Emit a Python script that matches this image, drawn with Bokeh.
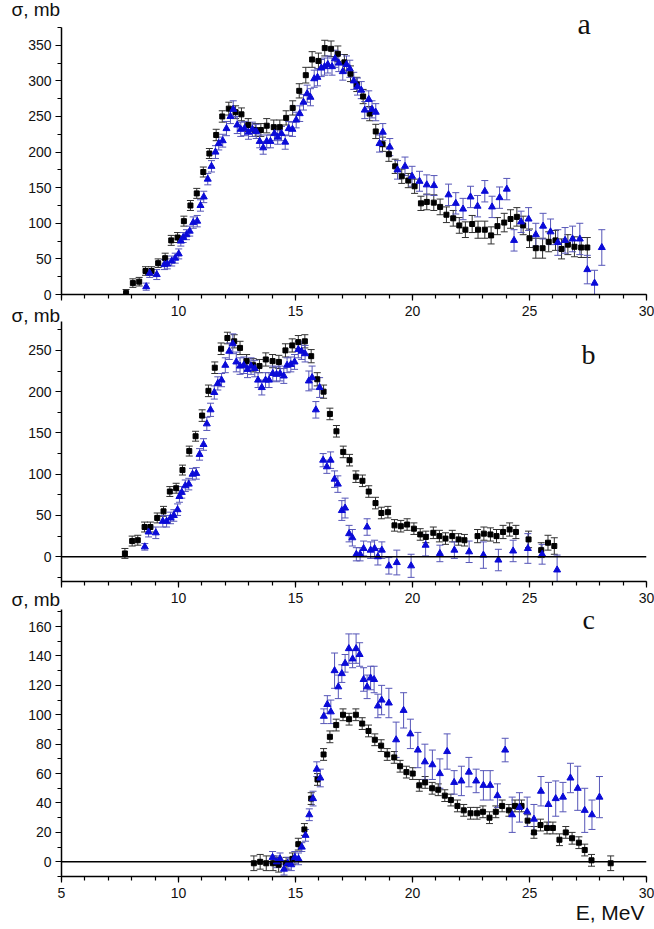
from bokeh.plotting import figure
from bokeh.models import (ColumnDataSource, Whisker, TeeHead, Label, Span, Range1d,
                          SingleIntervalTicker, Title)
from bokeh.layouts import column
from bokeh.embed import file_html
from bokeh.resources import INLINE

# ---------------- panel a ----------------
a_sq_E = [7.76, 8.05, 8.32, 8.59, 8.85, 9.13, 9.43, 9.69, 9.96, 10.23, 10.51, 10.78, 11.06, 11.32,
          11.61, 11.87, 12.15, 12.44, 12.69, 12.98, 13.28, 13.52, 13.77, 14.07, 14.33, 14.6, 14.88,
          15.16, 15.44, 15.71, 15.98, 16.25, 16.52, 16.81, 17.09, 17.35, 17.62, 17.89, 18.17, 18.43,
          18.72, 18.99, 19.26, 19.54, 19.82, 20.09, 20.36, 20.61, 20.91, 21.18, 21.45, 21.74, 22.0,
          22.26, 22.55, 22.8, 23.09, 23.36, 23.63, 23.92, 24.19, 24.46, 24.73, 25.0, 25.27, 25.56,
          25.82, 26.11, 26.37, 26.64, 26.92, 27.21, 27.47]
a_sq_v = [2, 16, 18, 33, 33, 44, 51, 76, 80, 103, 125, 142, 172, 198, 224, 250, 261, 256, 253, 238,
          231, 231, 237, 235, 235, 248, 262, 286, 308, 330, 328, 346, 345, 338, 326, 310, 295, 278,
          254, 229, 211, 197, 180, 166, 160, 152, 128, 130, 129, 123, 112, 107, 97, 91, 99, 91, 91,
          83, 96, 101, 106, 109, 97, 79, 65, 65, 74, 76, 64, 70, 67, 66, 66]
a_sq_err = [5, 6, 6, 6, 6, 6, 7, 7, 7, 7, 7, 7, 7, 7, 8, 8, 9, 9, 9, 9, 9, 9, 10, 10, 10, 10, 10,
            10, 11, 11, 11, 11, 11, 11, 11, 11, 10, 10, 10, 10, 10, 10, 10, 10, 10, 10, 10, 11, 11,
            11, 11, 11, 11, 11, 12, 12, 12, 12, 12, 13, 13, 13, 13, 13, 14, 14, 14, 14, 14, 14, 14,
            14, 14]
a_tr_E = [8.62, 8.77, 9.07, 9.40, 9.52, 9.71, 9.86, 10.01, 10.10, 10.20, 10.34, 10.48, 10.63, 10.80,
          10.94, 11.08, 11.25, 11.41, 11.58, 11.72, 11.89, 12.05, 12.22, 12.34, 12.51, 12.66, 12.82,
          12.99, 13.16, 13.32, 13.47, 13.62, 13.77, 13.93, 14.10, 14.24, 14.40, 14.56, 14.71, 14.87,
          15.03, 15.18, 15.34, 15.50, 15.64, 15.80, 15.94, 16.10, 16.24, 16.38, 16.56, 16.69, 16.85,
          17.02, 17.18, 17.32, 17.49, 17.65, 17.81, 17.96, 18.13, 18.27, 18.43, 18.59, 18.73, 19.03,
          19.36, 19.68, 19.98, 20.30, 20.61, 20.92, 21.54, 21.85, 22.16, 22.48, 22.78, 23.09, 23.40,
          23.72, 24.03, 24.34, 24.64, 24.96, 25.27, 25.58, 25.90, 26.21, 26.52, 26.84, 27.15, 27.47,
          27.78, 28.09]
a_tr_v = [11, 30, 28, 42, 43, 47, 51, 57, 75, 80, 84, 89, 101, 103, 125, 137, 162, 180, 200, 212,
          216, 233, 250, 260, 238, 232, 233, 228, 232, 229, 215, 206, 215, 215, 226, 221, 226, 214,
          233, 232, 245, 254, 270, 282, 277, 303, 305, 318, 320, 323, 320, 331, 325, 313, 323, 317,
          300, 292, 287, 259, 274, 260, 256, 212, 228, 207, 175, 180, 166, 159, 154, 153, 140, 128,
          120, 137, 124, 145, 123, 136, 148, 76, 102, 106, 84, 96, 88, 73, 76, 78, 78, 35, 16, 66]
a_tr_err = [5, 6, 7, 7, 7, 7, 7, 7, 7, 7, 7, 7, 8, 8, 8, 8, 8, 8, 9, 9, 9, 10, 10, 12, 12, 10, 10,
            10, 10, 10, 9, 9, 9, 9, 10, 10, 10, 10, 10, 10, 11, 11, 11, 12, 12, 12, 12, 12, 12, 12,
            12, 12, 12, 12, 12, 12, 12, 12, 12, 12, 12, 12, 12, 12, 12, 12, 13, 13, 14, 14, 14, 14,
            15, 15, 15, 15, 15, 15, 15, 15, 15, 15, 15, 16, 16, 18, 18, 18, 18, 18, 22, 20, 18, 25]

# ---------------- panel b ----------------
b_sq_E = [7.71, 8.02, 8.26, 8.55, 8.80, 9.09, 9.36, 9.63, 9.90, 10.17, 10.46, 10.73, 11.01, 11.28,
          11.55, 11.82, 12.09, 12.38, 12.63, 12.91, 13.19, 13.46, 13.73, 14.02, 14.29, 14.57, 14.86,
          15.12, 15.40, 15.67, 15.93, 16.20, 16.47, 16.75, 17.04, 17.31, 17.58, 17.86, 18.13, 18.42,
          18.67, 18.95, 19.23, 19.50, 19.77, 20.06, 20.33, 20.57, 20.89, 21.15, 21.41, 21.70, 21.97,
          22.22, 22.78, 23.05, 23.33, 23.59, 23.87, 24.15, 24.42, 24.96, 25.50, 25.79, 26.06]
b_sq_v = [4, 19, 20, 36, 36, 47, 55, 79, 83, 105, 128, 146, 171, 201, 229, 252, 265, 261, 253, 237,
          232, 231, 239, 237, 236, 250, 256, 260, 261, 243, 215, 200, 173, 152, 127, 117, 97, 92, 79,
          65, 53, 54, 38, 37, 39, 34, 27, 24, 29, 25, 22, 25, 21, 20, 25, 28, 27, 25, 30, 33, 30, 21,
          8, 17, 13]
b_sq_err = [6, 6, 6, 6, 6, 6, 6, 6, 6, 6, 6, 6, 7, 7, 7, 7, 7, 8, 8, 8, 8, 8, 8, 8, 8, 8, 8, 8, 8,
            8, 8, 8, 7, 7, 7, 7, 7, 7, 7, 7, 7, 7, 7, 7, 7, 7, 7, 7, 7, 7, 7, 7, 7, 7, 8, 8, 8, 8,
            8, 8, 8, 10, 9, 9, 10]
b_tr_E = [8.56, 8.72, 9.03, 9.33, 9.49, 9.66, 9.80, 9.96, 10.04, 10.14, 10.29, 10.44, 10.60, 10.76,
          10.90, 11.07, 11.21, 11.37, 11.53, 11.68, 11.84, 12.00, 12.17, 12.32, 12.47, 12.63, 12.79,
          12.95, 13.10, 13.26, 13.40, 13.56, 13.72, 13.87, 14.03, 14.19, 14.34, 14.50, 14.64, 14.80,
          14.96, 15.12, 15.26, 15.41, 15.57, 15.71, 15.87, 16.03, 16.18, 16.34, 16.50, 16.67, 16.81,
          16.98, 17.12, 17.29, 17.43, 17.60, 17.76, 17.91, 18.06, 18.21, 18.38, 18.52, 18.69, 18.99,
          19.33, 19.94, 20.56, 21.17, 21.79, 22.42, 23.03, 23.67, 24.30, 24.93, 25.54, 26.18]
b_tr_v = [12, 30, 29, 43, 43, 47, 50, 57, 73, 78, 86, 88, 100, 101, 124, 136, 161, 178, 199, 210,
          214, 232, 249, 258, 236, 231, 232, 227, 231, 228, 214, 205, 214, 214, 222, 221, 222, 219,
          232, 233, 236, 251, 249, 246, 213, 217, 178, 205, 117, 109, 117, 94, 88, 56, 59, 28, 23, 3,
          3, 10, 36, 8, 10, 0, 8, -11, -7, -11, 14, 4, 8, 6, 2, -4, 7, 10, 3, -16]
b_tr_err = [4, 6, 7, 7, 7, 7, 7, 7, 7, 7, 7, 7, 7, 7, 7, 7, 8, 8, 8, 8, 8, 9, 10, 12, 12, 10, 10,
            10, 10, 10, 9, 9, 9, 9, 9, 9, 9, 9, 9, 9, 9, 10, 10, 10, 12, 14, 10, 12, 8, 8, 10, 10,
            10, 12, 12, 10, 10, 8, 8, 9, 10, 10, 10, 10, 10, 10, 15, 14, 13, 10, 10, 13, 16, 13, 13,
            18, 12, 18]

# ---------------- panel c ----------------
c_sq_E = [13.22, 13.49, 13.75, 14.04, 14.28, 14.60, 14.87, 15.12, 15.38, 15.67, 15.94, 16.20, 16.47,
          16.74, 17.03, 17.29, 17.58, 17.85, 18.12, 18.39, 18.66, 18.92, 19.22, 19.47, 19.74, 20.01,
          20.29, 20.54, 20.84, 21.10, 21.38, 21.64, 21.92, 22.19, 22.48, 22.76, 23.01, 23.29, 23.56,
          23.83, 24.12, 24.38, 24.66, 24.92, 25.19, 25.47, 25.75, 26.00, 26.28, 26.55, 26.82, 27.11,
          27.36, 27.65, 28.47]
c_sq_v = [-1, 0, -1, -1, -2, -1, 2, 12, 22, 43, 56, 73, 85, 93, 100, 97, 100, 94, 89, 83, 79, 73,
          71, 65, 61, 60, 52, 54, 50, 49, 45, 42, 38, 35, 33, 33, 34, 30, 34, 38, 35, 38, 38, 28, 20,
          25, 23, 23, 15, 20, 16, 13, 8, 1, -1]
c_sq_err = [5, 5, 5, 5, 5, 4, 4, 4, 4, 4, 4, 4, 4, 4, 4, 4, 4, 4, 4, 4, 4, 4, 4, 4, 4, 4, 4, 4, 4,
            4, 4, 4, 4, 4, 4, 4, 4, 4, 4, 4, 4, 4, 4, 4, 4, 4, 4, 4, 4, 4, 4, 4, 4, 4, 5]
c_tr_E = [14.02, 14.20, 14.34, 14.51, 14.67, 14.82, 14.97, 15.13, 15.27, 15.43, 15.59, 15.75, 15.91,
          16.06, 16.21, 16.36, 16.51, 16.67, 16.83, 16.98, 17.12, 17.28, 17.44, 17.59, 17.74, 17.91,
          18.06, 18.21, 18.36, 18.52, 18.68, 18.99, 19.30, 19.62, 19.91, 20.23, 20.53, 20.85, 21.17,
          21.48, 21.78, 22.09, 22.41, 22.72, 23.03, 23.32, 23.63, 23.96, 24.26, 24.57, 24.90, 25.19,
          25.49, 25.81, 26.12, 26.43, 26.75, 27.06, 27.36, 27.67, 27.99]
c_tr_v = [3, 0, 2, -5, -1, -2, 3, 2, 10, 18, 32, 43, 63, 57, 99, 107, 102, 130, 119, 128, 135, 145,
          138, 145, 141, 124, 119, 125, 124, 106, 110, 108, 83, 103, 87, 76, 68, 66, 60, 75, 54, 55,
          61, 55, 52, 52, 45, 76, 32, 37, 34, 29, 48, 39, 43, 44, 57, 50, 35, 32, 44]
c_tr_err = [4, 4, 4, 4, 4, 4, 4, 4, 3, 4, 4, 5, 5, 6, 5, 6, 8, 12, 8, 6, 6, 10, 6, 10, 8, 8, 8, 8,
            9, 8, 10, 10, 12, 12, 10, 12, 12, 10, 10, 12, 8, 10, 10, 8, 10, 10, 8, 8, 12, 10, 10,
            10, 10, 15, 12, 10, 10, 15, 15, 10, 14]

x_ticks_interval = 5
SANS = "Liberation Sans"
SERIF = "Liberation Serif"
BLUE = "#0a0ad8"
BLUE_BAR = "#5656b8"
BLACK_BAR = "#303030"


def add_series(p, E, v, err, kind):
    src = ColumnDataSource(dict(x=E, y=v,
                                upper=[a + b for a, b in zip(v, err)],
                                lower=[a - b for a, b in zip(v, err)]))
    col = BLACK_BAR if kind == "sq" else BLUE_BAR
    w = Whisker(source=src, base="x", upper="upper", lower="lower", line_color=col, line_width=1,
                upper_head=TeeHead(size=7, line_color=col, line_width=1),
                lower_head=TeeHead(size=7, line_color=col, line_width=1))
    p.add_layout(w)
    if kind == "sq":
        p.scatter("x", "y", source=src, marker="square", size=5, fill_color="black",
                  line_color="black")
    else:
        p.scatter("x", "y", source=src, marker="triangle", size=7, fill_color=BLUE,
                  line_color=BLUE)


def make_fig(height, y0, y1, yint, top, bottom, show5, title_standoff, ybounds=None):
    p = figure(width=654, height=height, x_range=Range1d(5, 30), y_range=Range1d(y0, y1),
               output_backend="svg", toolbar_location=None,
               min_border_left=61, min_border_right=8, min_border_top=top,
               min_border_bottom=bottom)
    p.outline_line_color = None
    p.border_fill_color = None
    p.background_fill_color = None
    p.grid.visible = False
    p.xaxis.ticker = SingleIntervalTicker(interval=x_ticks_interval, num_minor_ticks=5)
    p.yaxis.ticker = SingleIntervalTicker(interval=yint, num_minor_ticks=2)
    if ybounds is not None:
        p.yaxis.bounds = ybounds
    for ax in (p.xaxis[0], p.yaxis[0]):
        ax.axis_line_width = 1.5
        ax.axis_line_color = "black"
        ax.major_tick_line_color = "black"
        ax.minor_tick_line_color = "black"
        ax.major_tick_line_width = 1.2
        ax.minor_tick_line_width = 1.2
        ax.major_tick_in = 0
        ax.major_tick_out = 6
        ax.minor_tick_in = 0
        ax.minor_tick_out = 4
        ax.major_label_text_font = SANS
        ax.major_label_text_font_size = "14px"
        ax.major_label_text_color = "#111111"
    p.xaxis.major_label_standoff = 5
    p.yaxis.major_label_standoff = 4
    if not show5:
        p.xaxis.major_label_overrides = {5: ""}
    # y-axis caption, drawn as the figure title at the upper left
    p.title.text = "σ, mb"
    p.title.align = "left"
    p.title.offset = -50
    p.title.standoff = title_standoff
    p.title.text_font = SANS
    p.title.text_font_size = "19px"
    p.title.text_font_style = "normal"
    p.title.text_color = "#111111"
    return p


# panel a: frame reaches above the axis top so that the panel letter is not clipped
fa = make_fig(325, 0, 396, 50, 12, 31, False, -15, ybounds=(0, 375))
fb = make_fig(318, -30, 285, 50, 30, 28, False, -8)
fc = make_fig(351, -10, 171.6, 20, 30, 54, True, -1)
fb.margin = (-34, 0, 0, 0)
fc.margin = (-30, 0, 0, 0)

add_series(fa, a_sq_E, a_sq_v, a_sq_err, "sq")
add_series(fa, a_tr_E, a_tr_v, a_tr_err, "tr")
add_series(fb, b_sq_E, b_sq_v, b_sq_err, "sq")
add_series(fb, b_tr_E, b_tr_v, b_tr_err, "tr")
add_series(fc, c_sq_E, c_sq_v, c_sq_err, "sq")
add_series(fc, c_tr_E, c_tr_v, c_tr_err, "tr")

for p in (fb, fc):
    p.add_layout(Span(location=0, dimension="width", line_color="black", line_width=1.5))

fc.add_layout(Title(text="E, MeV", align="right", offset=2, standoff=0,
                    text_font=SANS, text_font_size="21px", text_font_style="normal",
                    text_color="#111111", vertical_align="top"), "below")


def lab(p, x, y, text, font, size):
    p.add_layout(Label(x=x, y=y, x_units="screen", y_units="screen", text=text,
                       text_font=font, text_font_size=size, text_color="#111111",
                       text_align="left", text_baseline="alphabetic"))


lab(fa, 516, 271, "a", SERIF, "30px")
lab(fb, 520, 227, "b", SERIF, "28px")
lab(fc, 521, 257, "c", SERIF, "28px")

layout = column(fa, fb, fc)
open("out.html", "w").write(file_html(layout, INLINE))
